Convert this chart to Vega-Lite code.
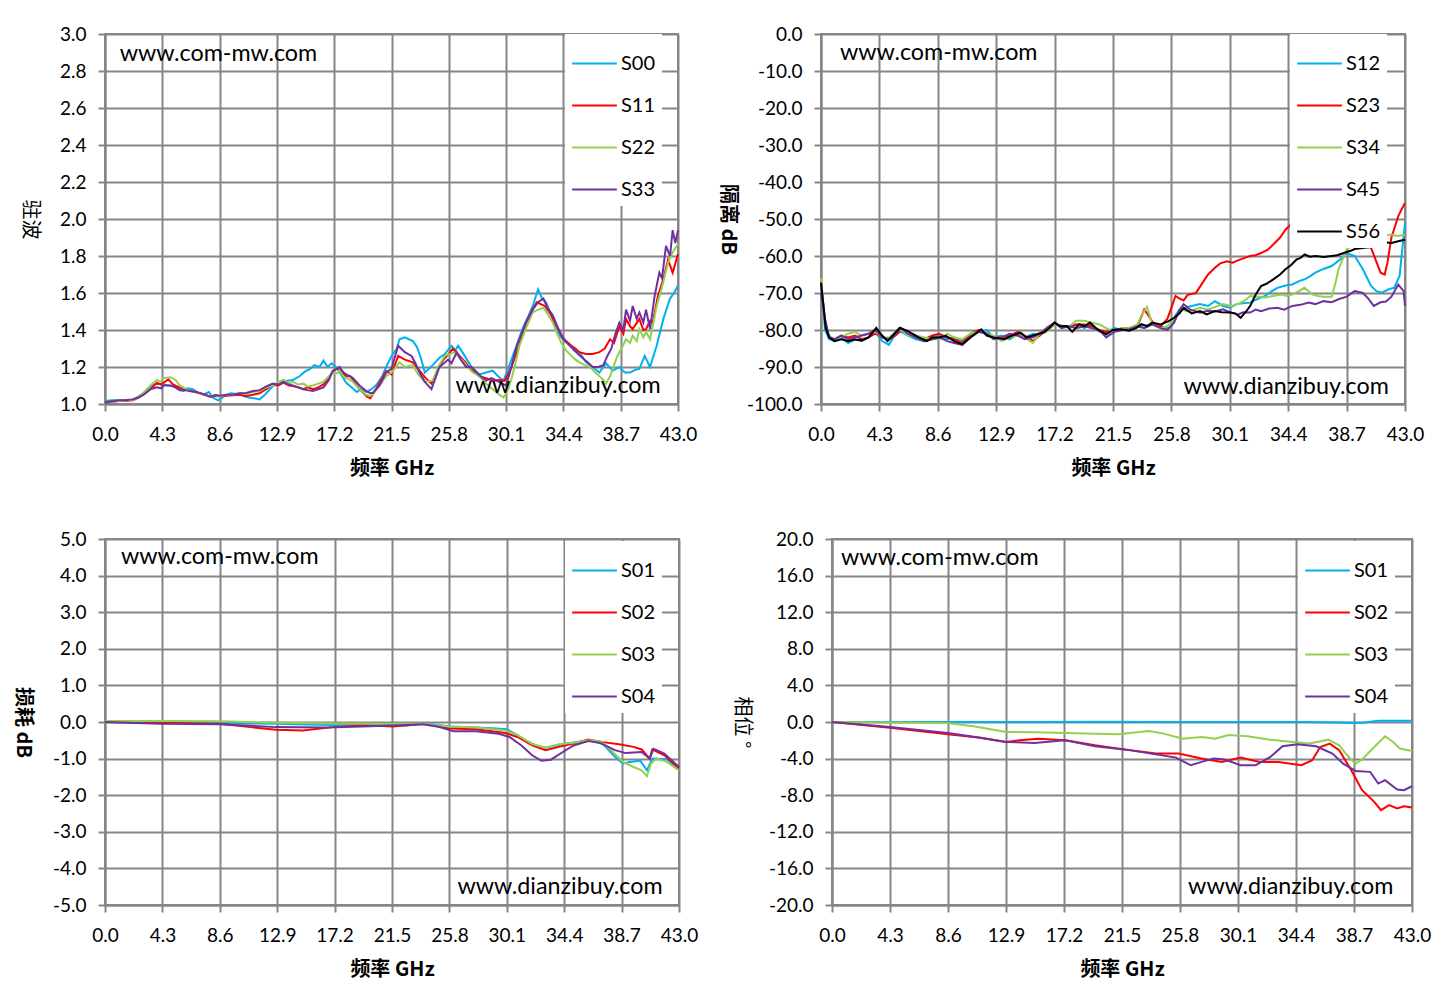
{
  "$schema": "https://vega.github.io/schema/vega-lite/v6.json",
  "background": "white",
  "padding": {"left": 11, "top": 24, "right": 5, "bottom": 5},
  "spacing": 50,
  "resolve": {"scale": {"color": "independent"}, "legend": {"color": "independent"}},
  "config": {
    "view": {"stroke": "#868686", "strokeWidth": 2},
    "axis": {
      "grid": true, "gridColor": "#868686", "gridWidth": 2,
      "domainColor": "#868686", "domainWidth": 2,
      "tickColor": "#868686", "tickWidth": 2, "tickSize": 7,
      "labelFont": "Lato", "labelFontSize": 19, "labelColor": "#000", "labelFlush": false,
      "titleFont": "Noto Sans CJK SC", "titleFontSize": 20, "titleColor": "#000", "titleFontWeight": "bold"
    },
    "axisX": {"labelPadding": 14, "titlePadding": 14},
    "axisY": {"labelPadding": 12, "titleAngle": 90, "titleBaseline": "top"},
    "legend": {
      "symbolType": "stroke", "symbolStrokeWidth": 2, "symbolSize": 2000,
      "labelFont": "Lato", "labelFontSize": 20, "labelColor": "#000",
      "rowPadding": 8, "padding": 6, "labelOffset": 3, "fillColor": "white"
    },
    "text": {"font": "Lato", "fontSize": 23.3, "align": "left", "baseline": "middle", "color": "#000"},
    "line": {"strokeWidth": 2}
  },
  "datasets": {
    "p1": [
      {"s":"S00","f":0,"v":1.016},{"s":"S00","f":0.5,"v":1.02},{"s":"S00","f":1.1,"v":1.02},{"s":"S00","f":1.6,"v":1.018},{"s":"S00","f":2.1,"v":1.025},{"s":"S00","f":2.5,"v":1.04},{"s":"S00","f":2.9,"v":1.06},{"s":"S00","f":3.3,"v":1.09},{"s":"S00","f":3.6,"v":1.105},{"s":"S00","f":4.0,"v":1.11},{"s":"S00","f":4.4,"v":1.106},{"s":"S00","f":4.8,"v":1.1},{"s":"S00","f":5.1,"v":1.097},{"s":"S00","f":5.5,"v":1.08},{"s":"S00","f":5.9,"v":1.07},{"s":"S00","f":6.2,"v":1.085},{"s":"S00","f":6.6,"v":1.08},{"s":"S00","f":7.0,"v":1.06},{"s":"S00","f":7.4,"v":1.052},{"s":"S00","f":7.8,"v":1.065},{"s":"S00","f":8.1,"v":1.034},{"s":"S00","f":8.5,"v":1.02},{"s":"S00","f":8.9,"v":1.04},{"s":"S00","f":9.4,"v":1.058},{"s":"S00","f":9.8,"v":1.055},{"s":"S00","f":10.1,"v":1.052},{"s":"S00","f":10.5,"v":1.04},{"s":"S00","f":10.9,"v":1.034},{"s":"S00","f":11.3,"v":1.03},{"s":"S00","f":11.6,"v":1.025},{"s":"S00","f":12.0,"v":1.05},{"s":"S00","f":12.6,"v":1.097},{"s":"S00","f":13.1,"v":1.11},{"s":"S00","f":13.6,"v":1.124},{"s":"S00","f":14.1,"v":1.13},{"s":"S00","f":14.6,"v":1.15},{"s":"S00","f":15.0,"v":1.175},{"s":"S00","f":15.4,"v":1.19},{"s":"S00","f":15.7,"v":1.21},{"s":"S00","f":16.1,"v":1.2},{"s":"S00","f":16.4,"v":1.235},{"s":"S00","f":16.7,"v":1.2},{"s":"S00","f":17.0,"v":1.22},{"s":"S00","f":17.4,"v":1.196},{"s":"S00","f":17.8,"v":1.15},{"s":"S00","f":18.1,"v":1.115},{"s":"S00","f":18.5,"v":1.09},{"s":"S00","f":18.9,"v":1.065},{"s":"S00","f":19.2,"v":1.08},{"s":"S00","f":19.6,"v":1.065},{"s":"S00","f":20.0,"v":1.08},{"s":"S00","f":20.4,"v":1.106},{"s":"S00","f":20.8,"v":1.15},{"s":"S00","f":21.1,"v":1.2},{"s":"S00","f":21.5,"v":1.26},{"s":"S00","f":21.9,"v":1.3},{"s":"S00","f":22.1,"v":1.35},{"s":"S00","f":22.5,"v":1.36},{"s":"S00","f":23.1,"v":1.34},{"s":"S00","f":23.4,"v":1.31},{"s":"S00","f":23.7,"v":1.25},{"s":"S00","f":24.0,"v":1.17},{"s":"S00","f":24.3,"v":1.19},{"s":"S00","f":24.6,"v":1.21},{"s":"S00","f":25.1,"v":1.25},{"s":"S00","f":25.5,"v":1.27},{"s":"S00","f":26.0,"v":1.315},{"s":"S00","f":26.3,"v":1.29},{"s":"S00","f":26.5,"v":1.315},{"s":"S00","f":27.0,"v":1.26},{"s":"S00","f":27.5,"v":1.2},{"s":"S00","f":28.1,"v":1.16},{"s":"S00","f":28.6,"v":1.17},{"s":"S00","f":29.1,"v":1.18},{"s":"S00","f":29.5,"v":1.15},{"s":"S00","f":29.9,"v":1.126},{"s":"S00","f":30.2,"v":1.18},{"s":"S00","f":30.6,"v":1.26},{"s":"S00","f":31.0,"v":1.34},{"s":"S00","f":31.4,"v":1.42},{"s":"S00","f":31.8,"v":1.48},{"s":"S00","f":32.1,"v":1.53},{"s":"S00","f":32.5,"v":1.62},{"s":"S00","f":32.8,"v":1.57},{"s":"S00","f":33.1,"v":1.55},{"s":"S00","f":33.6,"v":1.46},{"s":"S00","f":34.1,"v":1.37},{"s":"S00","f":34.5,"v":1.34},{"s":"S00","f":34.9,"v":1.32},{"s":"S00","f":35.2,"v":1.29},{"s":"S00","f":35.6,"v":1.28},{"s":"S00","f":36.1,"v":1.225},{"s":"S00","f":36.6,"v":1.2},{"s":"S00","f":37.1,"v":1.17},{"s":"S00","f":37.6,"v":1.22},{"s":"S00","f":38.1,"v":1.18},{"s":"S00","f":38.6,"v":1.2},{"s":"S00","f":39.0,"v":1.17},{"s":"S00","f":39.4,"v":1.17},{"s":"S00","f":39.8,"v":1.185},{"s":"S00","f":40.1,"v":1.19},{"s":"S00","f":40.5,"v":1.26},{"s":"S00","f":40.9,"v":1.2},{"s":"S00","f":41.4,"v":1.315},{"s":"S00","f":41.9,"v":1.46},{"s":"S00","f":42.4,"v":1.57},{"s":"S00","f":42.7,"v":1.6},{"s":"S00","f":43.0,"v":1.64},
      {"s":"S11","f":0,"v":1.007},{"s":"S11","f":0.5,"v":1.012},{"s":"S11","f":1.1,"v":1.016},{"s":"S11","f":1.6,"v":1.018},{"s":"S11","f":2.1,"v":1.02},{"s":"S11","f":2.5,"v":1.035},{"s":"S11","f":2.9,"v":1.052},{"s":"S11","f":3.4,"v":1.08},{"s":"S11","f":3.9,"v":1.115},{"s":"S11","f":4.2,"v":1.105},{"s":"S11","f":4.4,"v":1.115},{"s":"S11","f":4.75,"v":1.133},{"s":"S11","f":5.1,"v":1.106},{"s":"S11","f":5.6,"v":1.088},{"s":"S11","f":6.0,"v":1.08},{"s":"S11","f":6.4,"v":1.07},{"s":"S11","f":6.8,"v":1.065},{"s":"S11","f":7.1,"v":1.058},{"s":"S11","f":7.5,"v":1.05},{"s":"S11","f":7.9,"v":1.04},{"s":"S11","f":8.3,"v":1.045},{"s":"S11","f":8.6,"v":1.04},{"s":"S11","f":9.1,"v":1.045},{"s":"S11","f":9.6,"v":1.047},{"s":"S11","f":10.1,"v":1.05},{"s":"S11","f":10.6,"v":1.043},{"s":"S11","f":11.1,"v":1.05},{"s":"S11","f":11.6,"v":1.058},{"s":"S11","f":12.1,"v":1.08},{"s":"S11","f":12.6,"v":1.106},{"s":"S11","f":13.0,"v":1.1},{"s":"S11","f":13.4,"v":1.115},{"s":"S11","f":13.8,"v":1.1},{"s":"S11","f":14.1,"v":1.097},{"s":"S11","f":14.5,"v":1.09},{"s":"S11","f":14.9,"v":1.08},{"s":"S11","f":15.2,"v":1.09},{"s":"S11","f":15.6,"v":1.08},{"s":"S11","f":16.0,"v":1.09},{"s":"S11","f":16.4,"v":1.106},{"s":"S11","f":16.8,"v":1.14},{"s":"S11","f":17.1,"v":1.178},{"s":"S11","f":17.4,"v":1.19},{"s":"S11","f":17.6,"v":1.196},{"s":"S11","f":17.9,"v":1.16},{"s":"S11","f":18.1,"v":1.15},{"s":"S11","f":18.4,"v":1.15},{"s":"S11","f":18.6,"v":1.133},{"s":"S11","f":19.1,"v":1.08},{"s":"S11","f":19.6,"v":1.043},{"s":"S11","f":19.9,"v":1.03},{"s":"S11","f":20.1,"v":1.052},{"s":"S11","f":20.6,"v":1.115},{"s":"S11","f":21.1,"v":1.178},{"s":"S11","f":21.5,"v":1.16},{"s":"S11","f":22.0,"v":1.26},{"s":"S11","f":22.5,"v":1.24},{"s":"S11","f":23.1,"v":1.225},{"s":"S11","f":23.5,"v":1.19},{"s":"S11","f":24.0,"v":1.145},{"s":"S11","f":24.5,"v":1.11},{"s":"S11","f":25.0,"v":1.19},{"s":"S11","f":25.4,"v":1.24},{"s":"S11","f":25.8,"v":1.27},{"s":"S11","f":26.1,"v":1.3},{"s":"S11","f":26.6,"v":1.26},{"s":"S11","f":27.0,"v":1.23},{"s":"S11","f":27.4,"v":1.19},{"s":"S11","f":28.1,"v":1.15},{"s":"S11","f":28.6,"v":1.14},{"s":"S11","f":29.1,"v":1.126},{"s":"S11","f":29.6,"v":1.13},{"s":"S11","f":30.0,"v":1.126},{"s":"S11","f":30.5,"v":1.2},{"s":"S11","f":30.9,"v":1.28},{"s":"S11","f":31.3,"v":1.37},{"s":"S11","f":31.6,"v":1.44},{"s":"S11","f":32.0,"v":1.5},{"s":"S11","f":32.4,"v":1.55},{"s":"S11","f":32.7,"v":1.54},{"s":"S11","f":33.0,"v":1.53},{"s":"S11","f":33.5,"v":1.48},{"s":"S11","f":33.9,"v":1.42},{"s":"S11","f":34.25,"v":1.37},{"s":"S11","f":34.6,"v":1.34},{"s":"S11","f":35.0,"v":1.315},{"s":"S11","f":35.3,"v":1.3},{"s":"S11","f":35.6,"v":1.28},{"s":"S11","f":36.1,"v":1.27},{"s":"S11","f":36.6,"v":1.27},{"s":"S11","f":37.1,"v":1.28},{"s":"S11","f":37.5,"v":1.3},{"s":"S11","f":37.9,"v":1.35},{"s":"S11","f":38.2,"v":1.33},{"s":"S11","f":38.6,"v":1.42},{"s":"S11","f":38.9,"v":1.38},{"s":"S11","f":39.1,"v":1.46},{"s":"S11","f":39.4,"v":1.42},{"s":"S11","f":39.6,"v":1.405},{"s":"S11","f":40.1,"v":1.46},{"s":"S11","f":40.4,"v":1.4},{"s":"S11","f":40.6,"v":1.405},{"s":"S11","f":40.9,"v":1.45},{"s":"S11","f":41.1,"v":1.44},{"s":"S11","f":41.5,"v":1.585},{"s":"S11","f":41.9,"v":1.675},{"s":"S11","f":42.25,"v":1.78},{"s":"S11","f":42.6,"v":1.71},{"s":"S11","f":43.0,"v":1.81},
      {"s":"S22","f":0,"v":1.01},{"s":"S22","f":0.5,"v":1.013},{"s":"S22","f":1.1,"v":1.016},{"s":"S22","f":1.6,"v":1.02},{"s":"S22","f":2.1,"v":1.022},{"s":"S22","f":2.5,"v":1.04},{"s":"S22","f":2.9,"v":1.06},{"s":"S22","f":3.4,"v":1.1},{"s":"S22","f":3.9,"v":1.13},{"s":"S22","f":4.2,"v":1.12},{"s":"S22","f":4.4,"v":1.14},{"s":"S22","f":4.9,"v":1.145},{"s":"S22","f":5.3,"v":1.13},{"s":"S22","f":5.6,"v":1.1},{"s":"S22","f":6.0,"v":1.085},{"s":"S22","f":6.4,"v":1.07},{"s":"S22","f":6.8,"v":1.065},{"s":"S22","f":7.1,"v":1.055},{"s":"S22","f":7.5,"v":1.05},{"s":"S22","f":7.9,"v":1.04},{"s":"S22","f":8.3,"v":1.05},{"s":"S22","f":8.6,"v":1.04},{"s":"S22","f":9.1,"v":1.05},{"s":"S22","f":9.6,"v":1.05},{"s":"S22","f":10.1,"v":1.06},{"s":"S22","f":10.6,"v":1.055},{"s":"S22","f":11.1,"v":1.065},{"s":"S22","f":11.6,"v":1.07},{"s":"S22","f":12.1,"v":1.09},{"s":"S22","f":12.6,"v":1.1},{"s":"S22","f":13.0,"v":1.12},{"s":"S22","f":13.4,"v":1.13},{"s":"S22","f":13.8,"v":1.11},{"s":"S22","f":14.1,"v":1.12},{"s":"S22","f":14.5,"v":1.105},{"s":"S22","f":14.9,"v":1.11},{"s":"S22","f":15.2,"v":1.095},{"s":"S22","f":15.6,"v":1.1},{"s":"S22","f":16.0,"v":1.11},{"s":"S22","f":16.4,"v":1.12},{"s":"S22","f":16.8,"v":1.15},{"s":"S22","f":17.1,"v":1.17},{"s":"S22","f":17.4,"v":1.165},{"s":"S22","f":17.6,"v":1.18},{"s":"S22","f":17.9,"v":1.15},{"s":"S22","f":18.1,"v":1.14},{"s":"S22","f":18.4,"v":1.13},{"s":"S22","f":18.6,"v":1.12},{"s":"S22","f":19.1,"v":1.08},{"s":"S22","f":19.6,"v":1.05},{"s":"S22","f":19.9,"v":1.045},{"s":"S22","f":20.1,"v":1.05},{"s":"S22","f":20.6,"v":1.1},{"s":"S22","f":21.1,"v":1.15},{"s":"S22","f":21.5,"v":1.17},{"s":"S22","f":22.1,"v":1.225},{"s":"S22","f":22.5,"v":1.2},{"s":"S22","f":23.1,"v":1.21},{"s":"S22","f":23.5,"v":1.16},{"s":"S22","f":24.0,"v":1.12},{"s":"S22","f":24.6,"v":1.126},{"s":"S22","f":25.0,"v":1.2},{"s":"S22","f":25.5,"v":1.26},{"s":"S22","f":25.9,"v":1.27},{"s":"S22","f":26.2,"v":1.28},{"s":"S22","f":26.9,"v":1.23},{"s":"S22","f":27.2,"v":1.2},{"s":"S22","f":27.6,"v":1.17},{"s":"S22","f":28.1,"v":1.15},{"s":"S22","f":28.6,"v":1.11},{"s":"S22","f":29.1,"v":1.08},{"s":"S22","f":29.5,"v":1.055},{"s":"S22","f":29.9,"v":1.035},{"s":"S22","f":30.2,"v":1.07},{"s":"S22","f":30.5,"v":1.135},{"s":"S22","f":30.8,"v":1.22},{"s":"S22","f":31.1,"v":1.315},{"s":"S22","f":31.6,"v":1.41},{"s":"S22","f":32.1,"v":1.495},{"s":"S22","f":32.5,"v":1.51},{"s":"S22","f":32.9,"v":1.52},{"s":"S22","f":33.2,"v":1.49},{"s":"S22","f":33.6,"v":1.44},{"s":"S22","f":34.0,"v":1.37},{"s":"S22","f":34.25,"v":1.33},{"s":"S22","f":34.6,"v":1.29},{"s":"S22","f":35.0,"v":1.26},{"s":"S22","f":35.3,"v":1.24},{"s":"S22","f":35.6,"v":1.225},{"s":"S22","f":36.0,"v":1.21},{"s":"S22","f":36.4,"v":1.2},{"s":"S22","f":36.8,"v":1.17},{"s":"S22","f":37.1,"v":1.15},{"s":"S22","f":37.4,"v":1.13},{"s":"S22","f":37.6,"v":1.11},{"s":"S22","f":37.9,"v":1.15},{"s":"S22","f":38.1,"v":1.19},{"s":"S22","f":38.4,"v":1.25},{"s":"S22","f":38.6,"v":1.28},{"s":"S22","f":38.9,"v":1.32},{"s":"S22","f":39.1,"v":1.35},{"s":"S22","f":39.4,"v":1.33},{"s":"S22","f":39.6,"v":1.37},{"s":"S22","f":39.9,"v":1.34},{"s":"S22","f":40.1,"v":1.405},{"s":"S22","f":40.4,"v":1.36},{"s":"S22","f":40.6,"v":1.39},{"s":"S22","f":40.9,"v":1.35},{"s":"S22","f":41.1,"v":1.42},{"s":"S22","f":41.4,"v":1.53},{"s":"S22","f":41.9,"v":1.66},{"s":"S22","f":42.25,"v":1.765},{"s":"S22","f":42.6,"v":1.82},{"s":"S22","f":43.0,"v":1.865},
      {"s":"S33","f":0,"v":1.01},{"s":"S33","f":0.5,"v":1.015},{"s":"S33","f":1.1,"v":1.02},{"s":"S33","f":1.6,"v":1.022},{"s":"S33","f":2.1,"v":1.025},{"s":"S33","f":2.5,"v":1.035},{"s":"S33","f":2.9,"v":1.05},{"s":"S33","f":3.4,"v":1.08},{"s":"S33","f":3.9,"v":1.09},{"s":"S33","f":4.2,"v":1.085},{"s":"S33","f":4.4,"v":1.1},{"s":"S33","f":4.9,"v":1.1},{"s":"S33","f":5.3,"v":1.09},{"s":"S33","f":5.6,"v":1.075},{"s":"S33","f":6.0,"v":1.075},{"s":"S33","f":6.4,"v":1.07},{"s":"S33","f":6.8,"v":1.065},{"s":"S33","f":7.1,"v":1.06},{"s":"S33","f":7.5,"v":1.05},{"s":"S33","f":7.9,"v":1.04},{"s":"S33","f":8.3,"v":1.048},{"s":"S33","f":8.6,"v":1.045},{"s":"S33","f":9.1,"v":1.05},{"s":"S33","f":9.6,"v":1.05},{"s":"S33","f":10.1,"v":1.058},{"s":"S33","f":10.6,"v":1.06},{"s":"S33","f":11.1,"v":1.07},{"s":"S33","f":11.6,"v":1.075},{"s":"S33","f":12.1,"v":1.095},{"s":"S33","f":12.6,"v":1.11},{"s":"S33","f":13.0,"v":1.105},{"s":"S33","f":13.4,"v":1.12},{"s":"S33","f":13.8,"v":1.105},{"s":"S33","f":14.1,"v":1.1},{"s":"S33","f":14.5,"v":1.09},{"s":"S33","f":14.9,"v":1.08},{"s":"S33","f":15.2,"v":1.075},{"s":"S33","f":15.6,"v":1.07},{"s":"S33","f":16.0,"v":1.08},{"s":"S33","f":16.4,"v":1.09},{"s":"S33","f":16.8,"v":1.13},{"s":"S33","f":17.1,"v":1.18},{"s":"S33","f":17.4,"v":1.19},{"s":"S33","f":17.6,"v":1.2},{"s":"S33","f":17.9,"v":1.17},{"s":"S33","f":18.1,"v":1.16},{"s":"S33","f":18.4,"v":1.15},{"s":"S33","f":18.6,"v":1.14},{"s":"S33","f":19.1,"v":1.1},{"s":"S33","f":19.6,"v":1.07},{"s":"S33","f":19.9,"v":1.06},{"s":"S33","f":20.1,"v":1.06},{"s":"S33","f":20.6,"v":1.1},{"s":"S33","f":21.1,"v":1.17},{"s":"S33","f":21.5,"v":1.19},{"s":"S33","f":22.0,"v":1.315},{"s":"S33","f":22.5,"v":1.28},{"s":"S33","f":23.0,"v":1.26},{"s":"S33","f":23.3,"v":1.22},{"s":"S33","f":23.6,"v":1.17},{"s":"S33","f":24.0,"v":1.12},{"s":"S33","f":24.5,"v":1.08},{"s":"S33","f":25.1,"v":1.2},{"s":"S33","f":25.75,"v":1.24},{"s":"S33","f":26.0,"v":1.22},{"s":"S33","f":26.4,"v":1.28},{"s":"S33","f":26.7,"v":1.24},{"s":"S33","f":27.1,"v":1.2},{"s":"S33","f":27.5,"v":1.2},{"s":"S33","f":27.9,"v":1.17},{"s":"S33","f":28.2,"v":1.15},{"s":"S33","f":28.6,"v":1.126},{"s":"S33","f":29.0,"v":1.14},{"s":"S33","f":29.4,"v":1.126},{"s":"S33","f":29.8,"v":1.11},{"s":"S33","f":30.1,"v":1.1},{"s":"S33","f":30.5,"v":1.2},{"s":"S33","f":30.9,"v":1.315},{"s":"S33","f":31.2,"v":1.37},{"s":"S33","f":31.6,"v":1.44},{"s":"S33","f":32.1,"v":1.51},{"s":"S33","f":32.5,"v":1.55},{"s":"S33","f":32.9,"v":1.57},{"s":"S33","f":33.2,"v":1.52},{"s":"S33","f":33.6,"v":1.48},{"s":"S33","f":34.0,"v":1.41},{"s":"S33","f":34.4,"v":1.35},{"s":"S33","f":34.8,"v":1.32},{"s":"S33","f":35.1,"v":1.3},{"s":"S33","f":35.5,"v":1.27},{"s":"S33","f":35.9,"v":1.245},{"s":"S33","f":36.3,"v":1.22},{"s":"S33","f":36.6,"v":1.2},{"s":"S33","f":37.0,"v":1.2},{"s":"S33","f":37.4,"v":1.21},{"s":"S33","f":37.7,"v":1.26},{"s":"S33","f":38.0,"v":1.3},{"s":"S33","f":38.3,"v":1.38},{"s":"S33","f":38.6,"v":1.44},{"s":"S33","f":38.9,"v":1.4},{"s":"S33","f":39.1,"v":1.51},{"s":"S33","f":39.4,"v":1.45},{"s":"S33","f":39.6,"v":1.53},{"s":"S33","f":39.9,"v":1.46},{"s":"S33","f":40.1,"v":1.495},{"s":"S33","f":40.4,"v":1.44},{"s":"S33","f":40.6,"v":1.51},{"s":"S33","f":40.9,"v":1.405},{"s":"S33","f":41.25,"v":1.585},{"s":"S33","f":41.6,"v":1.71},{"s":"S33","f":41.8,"v":1.68},{"s":"S33","f":42.1,"v":1.855},{"s":"S33","f":42.4,"v":1.8},{"s":"S33","f":42.6,"v":1.94},{"s":"S33","f":42.8,"v":1.87},{"s":"S33","f":43.0,"v":1.94}
    ],
    "p2": [
      {"s":"S12","f":0,"v":-68},{"s":"S12","f":0.3,"v":-80},{"s":"S12","f":0.6,"v":-82.5},{"s":"S12","f":1.0,"v":-83},{"s":"S12","f":1.5,"v":-82},{"s":"S12","f":2.0,"v":-83.5},{"s":"S12","f":2.5,"v":-82.5},{"s":"S12","f":3.0,"v":-83},{"s":"S12","f":3.5,"v":-82},{"s":"S12","f":4.0,"v":-80.5},{"s":"S12","f":4.5,"v":-83},{"s":"S12","f":5.0,"v":-84},{"s":"S12","f":5.5,"v":-81},{"s":"S12","f":5.9,"v":-80.5},{"s":"S12","f":6.4,"v":-81.5},{"s":"S12","f":7.0,"v":-82.5},{"s":"S12","f":7.6,"v":-83},{"s":"S12","f":8.2,"v":-82},{"s":"S12","f":8.7,"v":-81.5},{"s":"S12","f":9.3,"v":-82.5},{"s":"S12","f":9.8,"v":-82},{"s":"S12","f":10.4,"v":-83},{"s":"S12","f":11.0,"v":-81.5},{"s":"S12","f":11.6,"v":-80.5},{"s":"S12","f":12.2,"v":-80},{"s":"S12","f":12.7,"v":-82},{"s":"S12","f":13.3,"v":-81.5},{"s":"S12","f":13.9,"v":-82.5},{"s":"S12","f":14.5,"v":-81},{"s":"S12","f":15.0,"v":-82},{"s":"S12","f":15.6,"v":-81},{"s":"S12","f":16.1,"v":-81.5},{"s":"S12","f":16.6,"v":-80},{"s":"S12","f":17.2,"v":-78.5},{"s":"S12","f":17.7,"v":-78.8},{"s":"S12","f":18.3,"v":-79.5},{"s":"S12","f":18.8,"v":-78.5},{"s":"S12","f":19.4,"v":-79.5},{"s":"S12","f":19.9,"v":-78.5},{"s":"S12","f":20.5,"v":-80.5},{"s":"S12","f":21.0,"v":-80.5},{"s":"S12","f":21.6,"v":-79.5},{"s":"S12","f":22.2,"v":-80},{"s":"S12","f":22.7,"v":-79.5},{"s":"S12","f":23.3,"v":-79},{"s":"S12","f":23.8,"v":-78.8},{"s":"S12","f":24.4,"v":-78.5},{"s":"S12","f":25.0,"v":-79},{"s":"S12","f":25.5,"v":-79.5},{"s":"S12","f":25.8,"v":-79},{"s":"S12","f":26.1,"v":-76},{"s":"S12","f":26.4,"v":-74.5},{"s":"S12","f":27.0,"v":-73.8},{"s":"S12","f":27.9,"v":-73},{"s":"S12","f":28.5,"v":-73.5},{"s":"S12","f":29.0,"v":-72.2},{"s":"S12","f":29.6,"v":-73.5},{"s":"S12","f":30.1,"v":-74},{"s":"S12","f":30.6,"v":-73},{"s":"S12","f":31.1,"v":-72.8},{"s":"S12","f":31.6,"v":-72.6},{"s":"S12","f":32.2,"v":-71.5},{"s":"S12","f":32.7,"v":-70.8},{"s":"S12","f":33.2,"v":-69.5},{"s":"S12","f":33.6,"v":-68.6},{"s":"S12","f":34.2,"v":-68},{"s":"S12","f":34.7,"v":-67.7},{"s":"S12","f":35.2,"v":-66.8},{"s":"S12","f":35.6,"v":-66.3},{"s":"S12","f":36.0,"v":-65.5},{"s":"S12","f":36.4,"v":-64.5},{"s":"S12","f":37.0,"v":-63.5},{"s":"S12","f":37.6,"v":-62.7},{"s":"S12","f":38.2,"v":-61},{"s":"S12","f":38.7,"v":-59.2},{"s":"S12","f":39.3,"v":-60},{"s":"S12","f":39.9,"v":-63.6},{"s":"S12","f":40.5,"v":-68.1},{"s":"S12","f":40.9,"v":-69.5},{"s":"S12","f":41.3,"v":-69.9},{"s":"S12","f":41.8,"v":-69},{"s":"S12","f":42.2,"v":-68.6},{"s":"S12","f":42.6,"v":-65.4},{"s":"S12","f":42.9,"v":-54.7},{"s":"S12","f":43.0,"v":-51},
      {"s":"S23","f":0,"v":-67},{"s":"S23","f":0.3,"v":-78},{"s":"S23","f":0.6,"v":-82},{"s":"S23","f":1.0,"v":-82.5},{"s":"S23","f":1.5,"v":-81.5},{"s":"S23","f":2.0,"v":-82},{"s":"S23","f":2.5,"v":-81.5},{"s":"S23","f":3.0,"v":-82.5},{"s":"S23","f":3.5,"v":-82},{"s":"S23","f":4.0,"v":-81},{"s":"S23","f":4.5,"v":-82},{"s":"S23","f":5.0,"v":-82.5},{"s":"S23","f":5.5,"v":-81.5},{"s":"S23","f":5.9,"v":-80},{"s":"S23","f":6.4,"v":-81},{"s":"S23","f":7.0,"v":-82},{"s":"S23","f":7.6,"v":-82.5},{"s":"S23","f":8.2,"v":-81.5},{"s":"S23","f":8.7,"v":-81},{"s":"S23","f":9.3,"v":-82},{"s":"S23","f":9.8,"v":-82.5},{"s":"S23","f":10.4,"v":-83.5},{"s":"S23","f":11.0,"v":-81},{"s":"S23","f":11.6,"v":-80},{"s":"S23","f":12.2,"v":-81},{"s":"S23","f":12.7,"v":-82},{"s":"S23","f":13.3,"v":-82},{"s":"S23","f":13.9,"v":-81.5},{"s":"S23","f":14.5,"v":-80.5},{"s":"S23","f":15.0,"v":-81.5},{"s":"S23","f":15.6,"v":-83},{"s":"S23","f":16.1,"v":-81.5},{"s":"S23","f":16.6,"v":-80},{"s":"S23","f":17.2,"v":-78},{"s":"S23","f":17.7,"v":-79},{"s":"S23","f":18.3,"v":-79},{"s":"S23","f":18.8,"v":-78.5},{"s":"S23","f":19.4,"v":-78.5},{"s":"S23","f":19.9,"v":-79},{"s":"S23","f":20.5,"v":-80},{"s":"S23","f":21.0,"v":-80.5},{"s":"S23","f":21.6,"v":-80},{"s":"S23","f":22.2,"v":-79.5},{"s":"S23","f":22.7,"v":-79.5},{"s":"S23","f":23.3,"v":-79},{"s":"S23","f":23.8,"v":-74.5},{"s":"S23","f":24.2,"v":-76.5},{"s":"S23","f":24.5,"v":-78.5},{"s":"S23","f":25.0,"v":-79},{"s":"S23","f":25.5,"v":-77},{"s":"S23","f":25.8,"v":-74},{"s":"S23","f":26.1,"v":-70.8},{"s":"S23","f":26.4,"v":-71.5},{"s":"S23","f":26.7,"v":-72},{"s":"S23","f":27.0,"v":-70.5},{"s":"S23","f":27.6,"v":-70},{"s":"S23","f":28.1,"v":-67.2},{"s":"S23","f":28.5,"v":-65},{"s":"S23","f":29.0,"v":-63.2},{"s":"S23","f":29.4,"v":-62},{"s":"S23","f":29.9,"v":-61.4},{"s":"S23","f":30.3,"v":-61.8},{"s":"S23","f":30.7,"v":-61.2},{"s":"S23","f":31.2,"v":-60.5},{"s":"S23","f":31.6,"v":-60},{"s":"S23","f":32.0,"v":-59.8},{"s":"S23","f":32.4,"v":-59.2},{"s":"S23","f":32.9,"v":-58.3},{"s":"S23","f":33.3,"v":-56.9},{"s":"S23","f":33.8,"v":-55},{"s":"S23","f":34.2,"v":-52.9},{"s":"S23","f":34.6,"v":-51.5},{"s":"S23","f":35.0,"v":-50},{"s":"S23","f":36.0,"v":-49},{"s":"S23","f":37.5,"v":-48},{"s":"S23","f":39.0,"v":-50},{"s":"S23","f":40.0,"v":-54},{"s":"S23","f":40.5,"v":-57.8},{"s":"S23","f":41.2,"v":-64.5},{"s":"S23","f":41.5,"v":-65},{"s":"S23","f":41.7,"v":-62},{"s":"S23","f":42.0,"v":-55},{"s":"S23","f":42.5,"v":-49.3},{"s":"S23","f":42.8,"v":-47},{"s":"S23","f":43.0,"v":-45.7},
      {"s":"S34","f":0,"v":-66},{"s":"S34","f":0.3,"v":-78},{"s":"S34","f":0.6,"v":-81.5},{"s":"S34","f":1.0,"v":-82.5},{"s":"S34","f":1.5,"v":-82},{"s":"S34","f":2.0,"v":-81},{"s":"S34","f":2.5,"v":-80.5},{"s":"S34","f":3.0,"v":-81.5},{"s":"S34","f":3.5,"v":-81},{"s":"S34","f":4.0,"v":-80.5},{"s":"S34","f":4.5,"v":-82},{"s":"S34","f":5.0,"v":-82},{"s":"S34","f":5.5,"v":-80.5},{"s":"S34","f":5.9,"v":-80},{"s":"S34","f":6.4,"v":-81.5},{"s":"S34","f":7.0,"v":-81.5},{"s":"S34","f":7.6,"v":-82},{"s":"S34","f":8.2,"v":-82.5},{"s":"S34","f":8.7,"v":-82.5},{"s":"S34","f":9.3,"v":-81},{"s":"S34","f":9.8,"v":-82},{"s":"S34","f":10.4,"v":-82.5},{"s":"S34","f":11.0,"v":-81},{"s":"S34","f":11.6,"v":-80.5},{"s":"S34","f":12.2,"v":-81},{"s":"S34","f":12.7,"v":-81.5},{"s":"S34","f":13.3,"v":-83},{"s":"S34","f":13.9,"v":-82},{"s":"S34","f":14.5,"v":-81.5},{"s":"S34","f":15.0,"v":-82},{"s":"S34","f":15.6,"v":-83.5},{"s":"S34","f":16.1,"v":-81},{"s":"S34","f":16.6,"v":-80.5},{"s":"S34","f":17.2,"v":-78.5},{"s":"S34","f":17.7,"v":-79},{"s":"S34","f":18.3,"v":-79},{"s":"S34","f":18.8,"v":-77.5},{"s":"S34","f":19.4,"v":-77.5},{"s":"S34","f":19.9,"v":-78},{"s":"S34","f":20.5,"v":-78.5},{"s":"S34","f":21.0,"v":-79.5},{"s":"S34","f":21.6,"v":-80.5},{"s":"S34","f":22.2,"v":-79.5},{"s":"S34","f":22.7,"v":-79.5},{"s":"S34","f":23.3,"v":-78.5},{"s":"S34","f":23.6,"v":-76},{"s":"S34","f":24.0,"v":-73.8},{"s":"S34","f":24.4,"v":-78.5},{"s":"S34","f":25.0,"v":-79.5},{"s":"S34","f":25.5,"v":-79},{"s":"S34","f":26.0,"v":-77},{"s":"S34","f":26.5,"v":-74.5},{"s":"S34","f":27.0,"v":-75},{"s":"S34","f":27.9,"v":-74},{"s":"S34","f":28.5,"v":-74.5},{"s":"S34","f":29.0,"v":-73.8},{"s":"S34","f":29.6,"v":-73},{"s":"S34","f":30.2,"v":-73.5},{"s":"S34","f":30.7,"v":-73},{"s":"S34","f":31.2,"v":-72},{"s":"S34","f":31.6,"v":-70.8},{"s":"S34","f":32.2,"v":-71},{"s":"S34","f":32.7,"v":-71.2},{"s":"S34","f":33.3,"v":-70.8},{"s":"S34","f":33.9,"v":-70.4},{"s":"S34","f":34.3,"v":-70.8},{"s":"S34","f":34.7,"v":-70.4},{"s":"S34","f":35.2,"v":-69.5},{"s":"S34","f":35.6,"v":-68.6},{"s":"S34","f":36.2,"v":-70.4},{"s":"S34","f":36.6,"v":-70.8},{"s":"S34","f":37.0,"v":-71},{"s":"S34","f":37.6,"v":-71},{"s":"S34","f":37.9,"v":-67},{"s":"S34","f":38.1,"v":-63.6},{"s":"S34","f":38.4,"v":-61},{"s":"S34","f":38.7,"v":-58.3},{"s":"S34","f":39.5,"v":-56},{"s":"S34","f":40.5,"v":-55},{"s":"S34","f":41.5,"v":-54.5},{"s":"S34","f":42.0,"v":-54.2},{"s":"S34","f":42.5,"v":-54.6},{"s":"S34","f":43.0,"v":-54.2},
      {"s":"S45","f":0,"v":-70},{"s":"S45","f":0.3,"v":-77},{"s":"S45","f":0.6,"v":-82},{"s":"S45","f":1.0,"v":-82.5},{"s":"S45","f":1.5,"v":-81.5},{"s":"S45","f":2.0,"v":-82.5},{"s":"S45","f":2.5,"v":-82},{"s":"S45","f":3.0,"v":-81.5},{"s":"S45","f":3.5,"v":-81},{"s":"S45","f":4.0,"v":-80},{"s":"S45","f":4.5,"v":-82},{"s":"S45","f":5.0,"v":-82.5},{"s":"S45","f":5.5,"v":-81},{"s":"S45","f":5.9,"v":-79.5},{"s":"S45","f":6.4,"v":-81},{"s":"S45","f":7.0,"v":-82},{"s":"S45","f":7.6,"v":-83},{"s":"S45","f":8.2,"v":-82.5},{"s":"S45","f":8.7,"v":-82},{"s":"S45","f":9.3,"v":-83},{"s":"S45","f":9.8,"v":-83.5},{"s":"S45","f":10.4,"v":-84},{"s":"S45","f":11.0,"v":-82},{"s":"S45","f":11.6,"v":-80.5},{"s":"S45","f":12.2,"v":-81},{"s":"S45","f":12.7,"v":-82.5},{"s":"S45","f":13.3,"v":-82},{"s":"S45","f":13.9,"v":-81},{"s":"S45","f":14.5,"v":-81.5},{"s":"S45","f":15.0,"v":-82.5},{"s":"S45","f":15.6,"v":-82},{"s":"S45","f":16.1,"v":-81},{"s":"S45","f":16.6,"v":-79.5},{"s":"S45","f":17.2,"v":-78},{"s":"S45","f":17.7,"v":-79.5},{"s":"S45","f":18.3,"v":-79},{"s":"S45","f":18.8,"v":-79.5},{"s":"S45","f":19.4,"v":-79},{"s":"S45","f":19.9,"v":-79.5},{"s":"S45","f":20.5,"v":-80},{"s":"S45","f":21.0,"v":-82},{"s":"S45","f":21.6,"v":-80.5},{"s":"S45","f":22.2,"v":-80},{"s":"S45","f":22.7,"v":-79.8},{"s":"S45","f":23.3,"v":-79},{"s":"S45","f":23.8,"v":-79.5},{"s":"S45","f":24.4,"v":-78.5},{"s":"S45","f":25.0,"v":-79.5},{"s":"S45","f":25.5,"v":-80},{"s":"S45","f":26.0,"v":-78},{"s":"S45","f":26.4,"v":-74.5},{"s":"S45","f":26.7,"v":-73},{"s":"S45","f":27.2,"v":-74.5},{"s":"S45","f":27.9,"v":-75.3},{"s":"S45","f":28.5,"v":-74.8},{"s":"S45","f":29.0,"v":-75},{"s":"S45","f":29.6,"v":-74.4},{"s":"S45","f":30.1,"v":-75.2},{"s":"S45","f":30.7,"v":-75.8},{"s":"S45","f":31.1,"v":-75.2},{"s":"S45","f":31.6,"v":-75.3},{"s":"S45","f":32.0,"v":-74.5},{"s":"S45","f":32.4,"v":-74.9},{"s":"S45","f":33.0,"v":-74.2},{"s":"S45","f":33.6,"v":-74},{"s":"S45","f":34.1,"v":-74.5},{"s":"S45","f":34.7,"v":-73.5},{"s":"S45","f":35.3,"v":-73.2},{"s":"S45","f":35.9,"v":-72.6},{"s":"S45","f":36.4,"v":-73},{"s":"S45","f":37.0,"v":-72.2},{"s":"S45","f":37.6,"v":-72.5},{"s":"S45","f":38.1,"v":-71.7},{"s":"S45","f":38.7,"v":-71},{"s":"S45","f":39.3,"v":-69.5},{"s":"S45","f":39.9,"v":-70},{"s":"S45","f":40.3,"v":-71.5},{"s":"S45","f":40.7,"v":-73.5},{"s":"S45","f":41.2,"v":-72.5},{"s":"S45","f":41.6,"v":-72.3},{"s":"S45","f":42.0,"v":-71},{"s":"S45","f":42.5,"v":-67.7},{"s":"S45","f":42.9,"v":-69.5},{"s":"S45","f":43.0,"v":-73.5},
      {"s":"S56","f":0,"v":-67.2},{"s":"S56","f":0.2,"v":-74},{"s":"S56","f":0.34,"v":-79.4},{"s":"S56","f":0.6,"v":-82},{"s":"S56","f":1.0,"v":-83},{"s":"S56","f":1.5,"v":-82.5},{"s":"S56","f":2.0,"v":-83},{"s":"S56","f":2.5,"v":-82.6},{"s":"S56","f":3.0,"v":-82.8},{"s":"S56","f":3.5,"v":-82},{"s":"S56","f":4.07,"v":-79.4},{"s":"S56","f":4.5,"v":-81.5},{"s":"S56","f":4.9,"v":-83},{"s":"S56","f":5.4,"v":-81},{"s":"S56","f":5.8,"v":-79.4},{"s":"S56","f":6.4,"v":-80.3},{"s":"S56","f":7.2,"v":-82},{"s":"S56","f":7.8,"v":-83},{"s":"S56","f":8.2,"v":-82},{"s":"S56","f":8.65,"v":-82},{"s":"S56","f":9.2,"v":-81.6},{"s":"S56","f":9.8,"v":-83},{"s":"S56","f":10.4,"v":-83.9},{"s":"S56","f":11.0,"v":-82},{"s":"S56","f":11.8,"v":-79.8},{"s":"S56","f":12.2,"v":-81.5},{"s":"S56","f":12.7,"v":-82},{"s":"S56","f":13.5,"v":-82.5},{"s":"S56","f":14.1,"v":-81.5},{"s":"S56","f":14.7,"v":-80.7},{"s":"S56","f":15.1,"v":-82},{"s":"S56","f":15.5,"v":-81.6},{"s":"S56","f":16.0,"v":-81},{"s":"S56","f":16.4,"v":-80.7},{"s":"S56","f":16.8,"v":-79.5},{"s":"S56","f":17.2,"v":-78},{"s":"S56","f":17.6,"v":-79},{"s":"S56","f":18.1,"v":-78.9},{"s":"S56","f":18.5,"v":-80.5},{"s":"S56","f":19.0,"v":-78.4},{"s":"S56","f":19.4,"v":-79},{"s":"S56","f":19.8,"v":-78},{"s":"S56","f":20.4,"v":-80},{"s":"S56","f":21.0,"v":-81.2},{"s":"S56","f":21.5,"v":-80},{"s":"S56","f":22.1,"v":-79.8},{"s":"S56","f":22.7,"v":-80.2},{"s":"S56","f":23.2,"v":-79.5},{"s":"S56","f":23.6,"v":-78.4},{"s":"S56","f":24.0,"v":-79},{"s":"S56","f":24.4,"v":-78},{"s":"S56","f":25.0,"v":-78.5},{"s":"S56","f":25.6,"v":-77.6},{"s":"S56","f":26.0,"v":-76.7},{"s":"S56","f":26.4,"v":-75.5},{"s":"S56","f":26.7,"v":-74},{"s":"S56","f":27.3,"v":-75.5},{"s":"S56","f":27.9,"v":-74.9},{"s":"S56","f":28.4,"v":-75.8},{"s":"S56","f":29.0,"v":-74.9},{"s":"S56","f":29.5,"v":-75.2},{"s":"S56","f":30.1,"v":-75.3},{"s":"S56","f":30.5,"v":-75.5},{"s":"S56","f":30.9,"v":-76.7},{"s":"S56","f":31.3,"v":-75},{"s":"S56","f":31.6,"v":-73.5},{"s":"S56","f":32.0,"v":-70.5},{"s":"S56","f":32.4,"v":-68.1},{"s":"S56","f":32.8,"v":-67.5},{"s":"S56","f":33.3,"v":-66.3},{"s":"S56","f":33.8,"v":-65},{"s":"S56","f":34.2,"v":-63.6},{"s":"S56","f":34.6,"v":-62.5},{"s":"S56","f":35.0,"v":-61},{"s":"S56","f":35.3,"v":-60.5},{"s":"S56","f":35.6,"v":-59.6},{"s":"S56","f":36.0,"v":-60.2},{"s":"S56","f":36.4,"v":-60},{"s":"S56","f":37.0,"v":-60.3},{"s":"S56","f":37.6,"v":-60},{"s":"S56","f":38.0,"v":-59.8},{"s":"S56","f":38.5,"v":-59.2},{"s":"S56","f":39.0,"v":-58.6},{"s":"S56","f":39.3,"v":-58.1},{"s":"S56","f":40.0,"v":-57.8},{"s":"S56","f":40.8,"v":-57.5},{"s":"S56","f":41.0,"v":-57},{"s":"S56","f":41.5,"v":-56.3},{"s":"S56","f":42.0,"v":-56.5},{"s":"S56","f":42.5,"v":-56},{"s":"S56","f":43.0,"v":-55.6}
    ],
    "p3": [
      {"s":"S01","f":0,"v":0},{"s":"S01","f":2,"v":0.01},{"s":"S01","f":4.3,"v":0},{"s":"S01","f":6,"v":0},{"s":"S01","f":8.6,"v":-0.02},{"s":"S01","f":10.7,"v":-0.04},{"s":"S01","f":12.9,"v":-0.05},{"s":"S01","f":15,"v":-0.07},{"s":"S01","f":17.2,"v":-0.08},{"s":"S01","f":19.3,"v":-0.07},{"s":"S01","f":21.5,"v":-0.08},{"s":"S01","f":22.5,"v":-0.1},{"s":"S01","f":23.8,"v":-0.05},{"s":"S01","f":24.8,"v":-0.07},{"s":"S01","f":25.8,"v":-0.12},{"s":"S01","f":27.8,"v":-0.15},{"s":"S01","f":29,"v":-0.17},{"s":"S01","f":30.1,"v":-0.2},{"s":"S01","f":30.9,"v":-0.36},{"s":"S01","f":31.5,"v":-0.5},{"s":"S01","f":32.4,"v":-0.66},{"s":"S01","f":33.0,"v":-0.7},{"s":"S01","f":33.6,"v":-0.66},{"s":"S01","f":34.3,"v":-0.6},{"s":"S01","f":35.1,"v":-0.56},{"s":"S01","f":36.2,"v":-0.5},{"s":"S01","f":37.3,"v":-0.6},{"s":"S01","f":38.2,"v":-0.95},{"s":"S01","f":38.8,"v":-1.14},{"s":"S01","f":39.3,"v":-1.09},{"s":"S01","f":40.1,"v":-1.06},{"s":"S01","f":40.6,"v":-1.32},{"s":"S01","f":41.0,"v":-1.0},{"s":"S01","f":42.1,"v":-1.02},{"s":"S01","f":43,"v":-1.3},
      {"s":"S02","f":0,"v":0},{"s":"S02","f":4.3,"v":-0.02},{"s":"S02","f":8.6,"v":-0.05},{"s":"S02","f":10.9,"v":-0.14},{"s":"S02","f":12.8,"v":-0.21},{"s":"S02","f":14.8,"v":-0.23},{"s":"S02","f":17.1,"v":-0.14},{"s":"S02","f":19.3,"v":-0.09},{"s":"S02","f":21.6,"v":-0.12},{"s":"S02","f":23.8,"v":-0.05},{"s":"S02","f":25.8,"v":-0.18},{"s":"S02","f":27.8,"v":-0.2},{"s":"S02","f":30,"v":-0.3},{"s":"S02","f":30.9,"v":-0.41},{"s":"S02","f":32,"v":-0.64},{"s":"S02","f":33,"v":-0.77},{"s":"S02","f":34,"v":-0.68},{"s":"S02","f":35.1,"v":-0.59},{"s":"S02","f":36.2,"v":-0.48},{"s":"S02","f":37.3,"v":-0.55},{"s":"S02","f":38.5,"v":-0.61},{"s":"S02","f":39.6,"v":-0.68},{"s":"S02","f":40.2,"v":-0.75},{"s":"S02","f":40.8,"v":-1.0},{"s":"S02","f":41.0,"v":-0.75},{"s":"S02","f":41.9,"v":-0.91},{"s":"S02","f":43,"v":-1.27},
      {"s":"S03","f":0,"v":0.03},{"s":"S03","f":4.3,"v":0.03},{"s":"S03","f":8.6,"v":0.02},{"s":"S03","f":12.9,"v":-0.02},{"s":"S03","f":17.2,"v":-0.04},{"s":"S03","f":21.3,"v":-0.05},{"s":"S03","f":23.8,"v":-0.05},{"s":"S03","f":25.8,"v":-0.12},{"s":"S03","f":27.8,"v":-0.15},{"s":"S03","f":30,"v":-0.23},{"s":"S03","f":30.9,"v":-0.36},{"s":"S03","f":32,"v":-0.6},{"s":"S03","f":33,"v":-0.7},{"s":"S03","f":34,"v":-0.61},{"s":"S03","f":35.1,"v":-0.57},{"s":"S03","f":36.2,"v":-0.5},{"s":"S03","f":37.1,"v":-0.52},{"s":"S03","f":37.9,"v":-0.77},{"s":"S03","f":38.8,"v":-1.09},{"s":"S03","f":39.6,"v":-1.23},{"s":"S03","f":40.2,"v":-1.32},{"s":"S03","f":40.6,"v":-1.48},{"s":"S03","f":40.9,"v":-1.14},{"s":"S03","f":41.3,"v":-1.0},{"s":"S03","f":42.1,"v":-1.09},{"s":"S03","f":43,"v":-1.32},
      {"s":"S04","f":0,"v":0},{"s":"S04","f":4.1,"v":-0.05},{"s":"S04","f":8.6,"v":-0.06},{"s":"S04","f":12.8,"v":-0.14},{"s":"S04","f":16.5,"v":-0.15},{"s":"S04","f":19.3,"v":-0.12},{"s":"S04","f":22.1,"v":-0.09},{"s":"S04","f":23.8,"v":-0.06},{"s":"S04","f":24.9,"v":-0.12},{"s":"S04","f":26.1,"v":-0.25},{"s":"S04","f":27.8,"v":-0.25},{"s":"S04","f":29.5,"v":-0.32},{"s":"S04","f":30.3,"v":-0.41},{"s":"S04","f":31.2,"v":-0.64},{"s":"S04","f":32,"v":-0.91},{"s":"S04","f":32.7,"v":-1.06},{"s":"S04","f":33.4,"v":-1.03},{"s":"S04","f":34.3,"v":-0.82},{"s":"S04","f":35.1,"v":-0.64},{"s":"S04","f":36.2,"v":-0.52},{"s":"S04","f":37.1,"v":-0.57},{"s":"S04","f":38.2,"v":-0.77},{"s":"S04","f":39,"v":-0.85},{"s":"S04","f":40.2,"v":-0.82},{"s":"S04","f":40.8,"v":-1.0},{"s":"S04","f":41.1,"v":-0.73},{"s":"S04","f":41.9,"v":-0.86},{"s":"S04","f":43,"v":-1.23}
    ],
    "p4": [
      {"s":"S01","f":0,"v":0},{"s":"S01","f":5,"v":0},{"s":"S01","f":10,"v":0},{"s":"S01","f":15,"v":0},{"s":"S01","f":20,"v":0.02},{"s":"S01","f":25,"v":0},{"s":"S01","f":30,"v":0},{"s":"S01","f":35,"v":0},{"s":"S01","f":37.5,"v":-0.05},{"s":"S01","f":38.8,"v":-0.12},{"s":"S01","f":39.5,"v":-0.05},{"s":"S01","f":40.5,"v":0.15},{"s":"S01","f":43,"v":0.15},
      {"s":"S02","f":0,"v":0},{"s":"S02","f":4.3,"v":-0.62},{"s":"S02","f":8.6,"v":-1.35},{"s":"S02","f":11,"v":-1.71},{"s":"S02","f":12.9,"v":-2.18},{"s":"S02","f":13.9,"v":-2.0},{"s":"S02","f":15.3,"v":-1.82},{"s":"S02","f":17.3,"v":-2.0},{"s":"S02","f":19.5,"v":-2.55},{"s":"S02","f":21.8,"v":-3.02},{"s":"S02","f":24,"v":-3.45},{"s":"S02","f":25.7,"v":-3.45},{"s":"S02","f":27.4,"v":-4.0},{"s":"S02","f":28.9,"v":-4.36},{"s":"S02","f":30.3,"v":-3.89},{"s":"S02","f":31.7,"v":-4.36},{"s":"S02","f":33.1,"v":-4.36},{"s":"S02","f":34.8,"v":-4.73},{"s":"S02","f":35.6,"v":-4.18},{"s":"S02","f":36.2,"v":-2.73},{"s":"S02","f":36.9,"v":-2.36},{"s":"S02","f":37.6,"v":-3.09},{"s":"S02","f":38.5,"v":-5.27},{"s":"S02","f":39.3,"v":-7.45},{"s":"S02","f":40.2,"v":-8.73},{"s":"S02","f":40.7,"v":-9.64},{"s":"S02","f":41.3,"v":-9.09},{"s":"S02","f":41.9,"v":-9.45},{"s":"S02","f":42.4,"v":-9.2},{"s":"S02","f":43,"v":-9.35},
      {"s":"S03","f":0,"v":0},{"s":"S03","f":8.5,"v":-0.1},{"s":"S03","f":10.5,"v":-0.47},{"s":"S03","f":12.9,"v":-1.09},{"s":"S03","f":15,"v":-1.12},{"s":"S03","f":17.3,"v":-1.2},{"s":"S03","f":21.2,"v":-1.35},{"s":"S03","f":23.5,"v":-0.98},{"s":"S03","f":24.6,"v":-1.27},{"s":"S03","f":26,"v":-1.82},{"s":"S03","f":27.4,"v":-1.64},{"s":"S03","f":28.4,"v":-1.82},{"s":"S03","f":29.4,"v":-1.42},{"s":"S03","f":30.8,"v":-1.56},{"s":"S03","f":32.5,"v":-1.93},{"s":"S03","f":34.2,"v":-2.18},{"s":"S03","f":35.4,"v":-2.36},{"s":"S03","f":36.8,"v":-1.93},{"s":"S03","f":37.6,"v":-2.55},{"s":"S03","f":38.2,"v":-3.64},{"s":"S03","f":38.8,"v":-4.55},{"s":"S03","f":39.3,"v":-4.1},{"s":"S03","f":40.2,"v":-2.73},{"s":"S03","f":41,"v":-1.56},{"s":"S03","f":41.6,"v":-2.18},{"s":"S03","f":42.1,"v":-2.9},{"s":"S03","f":43,"v":-3.16},
      {"s":"S04","f":0,"v":0},{"s":"S04","f":4.3,"v":-0.55},{"s":"S04","f":8.6,"v":-1.2},{"s":"S04","f":11,"v":-1.71},{"s":"S04","f":12.9,"v":-2.18},{"s":"S04","f":15,"v":-2.29},{"s":"S04","f":17.3,"v":-2.0},{"s":"S04","f":19.5,"v":-2.65},{"s":"S04","f":21.8,"v":-3.02},{"s":"S04","f":24,"v":-3.53},{"s":"S04","f":25.5,"v":-3.89},{"s":"S04","f":26.6,"v":-4.73},{"s":"S04","f":27.4,"v":-4.36},{"s":"S04","f":28.3,"v":-4.0},{"s":"S04","f":29.1,"v":-4.1},{"s":"S04","f":30.3,"v":-4.73},{"s":"S04","f":31.4,"v":-4.73},{"s":"S04","f":32.5,"v":-3.82},{"s":"S04","f":33.4,"v":-2.65},{"s":"S04","f":34.5,"v":-2.44},{"s":"S04","f":35.9,"v":-2.65},{"s":"S04","f":37.1,"v":-3.45},{"s":"S04","f":37.9,"v":-4.55},{"s":"S04","f":38.8,"v":-5.35},{"s":"S04","f":39.9,"v":-5.45},{"s":"S04","f":40.5,"v":-6.73},{"s":"S04","f":41,"v":-6.36},{"s":"S04","f":41.9,"v":-7.38},{"s":"S04","f":42.4,"v":-7.45},{"s":"S04","f":43,"v":-7.02}
    ]
  },
  "vconcat": [
    {
      "hconcat": [
        {
          "width": 573, "height": 370,
          "layer": [
            {
              "data": {"name": "p1"},
              "mark": {"type": "line", "strokeWidth": 2},
              "encoding": {
                "x": {"field": "f", "type": "quantitative", "scale": {"domain": [0, 43], "nice": false}, "axis": {"values": [0, 4.3, 8.6, 12.9, 17.2, 21.5, 25.8, 30.1, 34.4, 38.7, 43], "format": ".1f", "title": "频率 GHz"}},
                "y": {"field": "v", "type": "quantitative", "scale": {"domain": [1, 3], "nice": false}, "axis": {"values": [1, 1.2, 1.4, 1.6, 1.8, 2, 2.2, 2.4, 2.6, 2.8, 3], "format": ".1f", "title": "驻波", "titleFontWeight": "normal", "titlePadding": 20}},
                "color": {"field": "s", "type": "nominal", "scale": {"domain": ["S00", "S11", "S22", "S33"], "range": ["#00B0F0", "#FF0000", "#92D050", "#7030A0"]}, "legend": {"title": null, "orient": "none", "legendX": 460, "legendY": 0}}
              }
            },
            {"data": {"values": [{"t": "www.com-mw.com"}]}, "mark": {"type": "text"}, "encoding": {
              "x": {"datum": 1.1, "type": "quantitative", "axis": {"values": [0, 4.3, 8.6, 12.9, 17.2, 21.5, 25.8, 30.1, 34.4, 38.7, 43], "format": ".1f", "title": "频率 GHz"}},
              "y": {"datum": 2.89, "type": "quantitative", "axis": {"values": [1, 1.2, 1.4, 1.6, 1.8, 2, 2.2, 2.4, 2.6, 2.8, 3], "format": ".1f", "title": "驻波", "titleFontWeight": "normal", "titlePadding": 20}},
              "text": {"field": "t", "type": "nominal"}}},
            {"data": {"values": [{"t": "www.dianzibuy.com"}]}, "mark": {"type": "text"}, "encoding": {
              "x": {"datum": 26.3, "type": "quantitative", "axis": {"values": [0, 4.3, 8.6, 12.9, 17.2, 21.5, 25.8, 30.1, 34.4, 38.7, 43], "format": ".1f", "title": "频率 GHz"}},
              "y": {"datum": 1.1, "type": "quantitative", "axis": {"values": [1, 1.2, 1.4, 1.6, 1.8, 2, 2.2, 2.4, 2.6, 2.8, 3], "format": ".1f", "title": "驻波", "titleFontWeight": "normal", "titlePadding": 20}},
              "text": {"field": "t", "type": "nominal"}}}
          ]
        },
        {
          "width": 584, "height": 370,
          "layer": [
            {
              "data": {"name": "p2"},
              "mark": {"type": "line", "strokeWidth": 2},
              "encoding": {
                "x": {"field": "f", "type": "quantitative", "scale": {"domain": [0, 43], "nice": false}, "axis": {"values": [0, 4.3, 8.6, 12.9, 17.2, 21.5, 25.8, 30.1, 34.4, 38.7, 43], "format": ".1f", "title": "频率 GHz"}},
                "y": {"field": "v", "type": "quantitative", "scale": {"domain": [-100, 0], "nice": false}, "axis": {"values": [-100, -90, -80, -70, -60, -50, -40, -30, -20, -10, 0], "labelExpr": "replace(format(datum.value, '.1f'), '\u2212', '-')", "title": "隔离 dB", "titlePadding": 9}},
                "color": {"field": "s", "type": "nominal", "scale": {"domain": ["S12", "S23", "S34", "S45", "S56"], "range": ["#00B0F0", "#FF0000", "#92D050", "#7030A0", "#000000"]}, "legend": {"title": null, "orient": "none", "legendX": 469, "legendY": 0}}
              }
            },
            {"data": {"values": [{"t": "www.com-mw.com"}]}, "mark": {"type": "text"}, "encoding": {
              "x": {"datum": 1.4, "type": "quantitative", "axis": {"values": [0, 4.3, 8.6, 12.9, 17.2, 21.5, 25.8, 30.1, 34.4, 38.7, 43], "format": ".1f", "title": "频率 GHz"}},
              "y": {"datum": -5.1, "type": "quantitative", "axis": {"values": [-100, -90, -80, -70, -60, -50, -40, -30, -20, -10, 0], "labelExpr": "replace(format(datum.value, '.1f'), '\u2212', '-')", "title": "隔离 dB", "titlePadding": 9}},
              "text": {"field": "t", "type": "nominal"}}},
            {"data": {"values": [{"t": "www.dianzibuy.com"}]}, "mark": {"type": "text"}, "encoding": {
              "x": {"datum": 26.7, "type": "quantitative", "axis": {"values": [0, 4.3, 8.6, 12.9, 17.2, 21.5, 25.8, 30.1, 34.4, 38.7, 43], "format": ".1f", "title": "频率 GHz"}},
              "y": {"datum": -95.4, "type": "quantitative", "axis": {"values": [-100, -90, -80, -70, -60, -50, -40, -30, -20, -10, 0], "labelExpr": "replace(format(datum.value, '.1f'), '\u2212', '-')", "title": "隔离 dB", "titlePadding": 9}},
              "text": {"field": "t", "type": "nominal"}}}
          ]
        }
      ],
      "spacing": 143,
      "bounds": "flush",
      "resolve": {"scale": {"color": "independent"}, "legend": {"color": "independent"}}
    },
    {
      "hconcat": [
        {
          "width": 574, "height": 366,
          "layer": [
            {
              "data": {"name": "p3"},
              "mark": {"type": "line", "strokeWidth": 2},
              "encoding": {
                "x": {"field": "f", "type": "quantitative", "scale": {"domain": [0, 43], "nice": false}, "axis": {"values": [0, 4.3, 8.6, 12.9, 17.2, 21.5, 25.8, 30.1, 34.4, 38.7, 43], "format": ".1f", "title": "频率 GHz"}},
                "y": {"field": "v", "type": "quantitative", "scale": {"domain": [-5, 5], "nice": false}, "axis": {"values": [-5, -4, -3, -2, -1, 0, 1, 2, 3, 4, 5], "labelExpr": "replace(format(datum.value, '.1f'), '\u2212', '-')", "title": "损耗 dB", "titlePadding": 20}},
                "color": {"field": "s", "type": "nominal", "scale": {"domain": ["S01", "S02", "S03", "S04"], "range": ["#00B0F0", "#FF0000", "#92D050", "#7030A0"]}, "legend": {"title": null, "orient": "none", "legendX": 460, "legendY": 2}}
              }
            },
            {"data": {"values": [{"t": "www.com-mw.com"}]}, "mark": {"type": "text"}, "encoding": {
              "x": {"datum": 1.2, "type": "quantitative", "axis": {"values": [0, 4.3, 8.6, 12.9, 17.2, 21.5, 25.8, 30.1, 34.4, 38.7, 43], "format": ".1f", "title": "频率 GHz"}},
              "y": {"datum": 4.51, "type": "quantitative", "axis": {"values": [-5, -4, -3, -2, -1, 0, 1, 2, 3, 4, 5], "labelExpr": "replace(format(datum.value, '.1f'), '\u2212', '-')", "title": "损耗 dB", "titlePadding": 20}},
              "text": {"field": "t", "type": "nominal"}}},
            {"data": {"values": [{"t": "www.dianzibuy.com"}]}, "mark": {"type": "text"}, "encoding": {
              "x": {"datum": 26.4, "type": "quantitative", "axis": {"values": [0, 4.3, 8.6, 12.9, 17.2, 21.5, 25.8, 30.1, 34.4, 38.7, 43], "format": ".1f", "title": "频率 GHz"}},
              "y": {"datum": -4.51, "type": "quantitative", "axis": {"values": [-5, -4, -3, -2, -1, 0, 1, 2, 3, 4, 5], "labelExpr": "replace(format(datum.value, '.1f'), '\u2212', '-')", "title": "损耗 dB", "titlePadding": 20}},
              "text": {"field": "t", "type": "nominal"}}}
          ]
        },
        {
          "width": 580, "height": 366,
          "layer": [
            {
              "data": {"name": "p4"},
              "mark": {"type": "line", "strokeWidth": 2},
              "encoding": {
                "x": {"field": "f", "type": "quantitative", "scale": {"domain": [0, 43], "nice": false}, "axis": {"values": [0, 4.3, 8.6, 12.9, 17.2, 21.5, 25.8, 30.1, 34.4, 38.7, 43], "format": ".1f", "title": "频率 GHz"}},
                "y": {"field": "v", "type": "quantitative", "scale": {"domain": [-20, 20], "nice": false}, "axis": {"values": [-20, -16, -12, -8, -4, 0, 4, 8, 12, 16, 20], "labelExpr": "replace(format(datum.value, '.1f'), '\u2212', '-')", "title": "相位 °", "titleFontWeight": "normal", "titlePadding": 17}},
                "color": {"field": "s", "type": "nominal", "scale": {"domain": ["S01", "S02", "S03", "S04"], "range": ["#00B0F0", "#FF0000", "#92D050", "#7030A0"]}, "legend": {"title": null, "orient": "none", "legendX": 466, "legendY": 2}}
              }
            },
            {"data": {"values": [{"t": "www.com-mw.com"}]}, "mark": {"type": "text"}, "encoding": {
              "x": {"datum": 0.67, "type": "quantitative", "axis": {"values": [0, 4.3, 8.6, 12.9, 17.2, 21.5, 25.8, 30.1, 34.4, 38.7, 43], "format": ".1f", "title": "频率 GHz"}},
              "y": {"datum": 17.9, "type": "quantitative", "axis": {"values": [-20, -16, -12, -8, -4, 0, 4, 8, 12, 16, 20], "labelExpr": "replace(format(datum.value, '.1f'), '\u2212', '-')", "title": "相位 °", "titleFontWeight": "normal", "titlePadding": 17}},
              "text": {"field": "t", "type": "nominal"}}},
            {"data": {"values": [{"t": "www.dianzibuy.com"}]}, "mark": {"type": "text"}, "encoding": {
              "x": {"datum": 26.4, "type": "quantitative", "axis": {"values": [0, 4.3, 8.6, 12.9, 17.2, 21.5, 25.8, 30.1, 34.4, 38.7, 43], "format": ".1f", "title": "频率 GHz"}},
              "y": {"datum": -18.0, "type": "quantitative", "axis": {"values": [-20, -16, -12, -8, -4, 0, 4, 8, 12, 16, 20], "labelExpr": "replace(format(datum.value, '.1f'), '\u2212', '-')", "title": "相位 °", "titleFontWeight": "normal", "titlePadding": 17}},
              "text": {"field": "t", "type": "nominal"}}}
          ]
        }
      ],
      "spacing": 153,
      "bounds": "flush",
      "resolve": {"scale": {"color": "independent"}, "legend": {"color": "independent"}}
    }
  ]
}
